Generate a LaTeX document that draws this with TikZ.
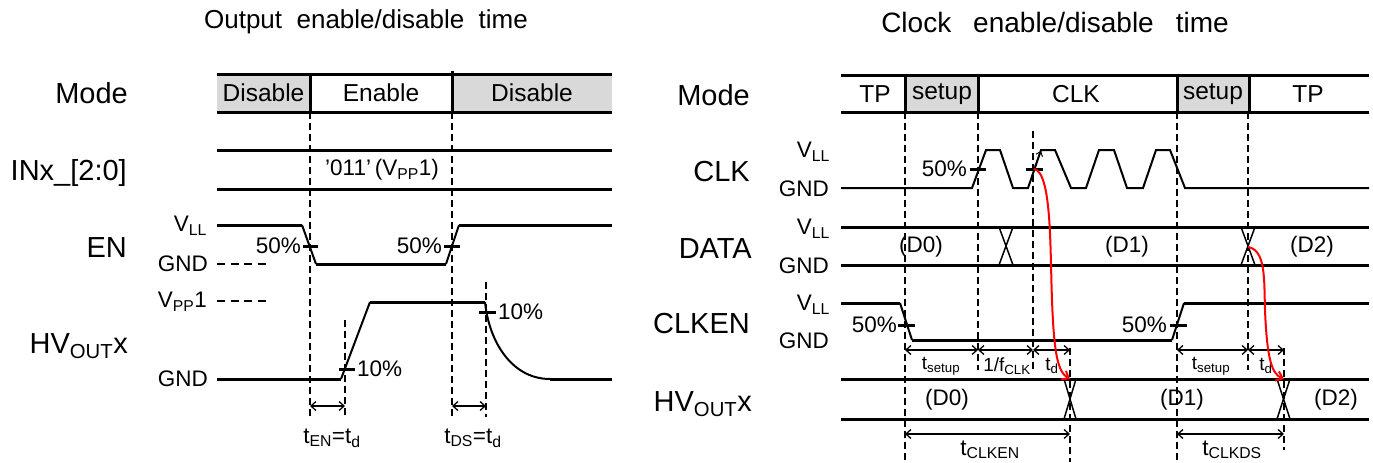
\documentclass[tikz,border=0pt]{standalone}
\usepackage{fontspec}
\setmainfont{Liberation Sans}
\usetikzlibrary{arrows.meta}
\definecolor{boxgray}{RGB}{217,217,217}
\newcommand\fbig{\fontsize{29}{31}\selectfont}
\newcommand\fmod{\fontsize{24.5}{26}\selectfont}
\newcommand\fsml{\fontsize{22.5}{24}\selectfont}
\newcommand\fdim{\fontsize{19}{21}\selectfont}
\newcommand\fttl{\fontsize{26}{28}\selectfont}
\newcommand\fttr{\fontsize{28}{30}\selectfont}
\newcommand\sbs[1]{\textsubscript{#1}}
\begin{document}
\begin{tikzpicture}[x=1pt,y=-1pt,
  sig/.style={line width=3pt},
  slope/.style={line width=2pt},
  clkw/.style={line width=2pt, line join=miter},
  tk/.style={line width=3pt},
  dsh/.style={line width=1.8pt, dash pattern=on 7pt off 4pt},
  sdsh/.style={line width=1.8pt, dash pattern=on 8pt off 5.5pt},
  dimarr/.style={line width=1.3pt, {Straight Barb[length=5pt,width=9pt]}-{Straight Barb[length=5pt,width=9pt]}},
  xln/.style={line width=1.5pt},
  redc/.style={line width=2pt, red, -{Straight Barb[length=6pt,width=10pt]}},
  lbig/.style={font=\fbig, inner sep=0pt, anchor=base east},
  lmod/.style={font=\fmod, inner sep=0pt},
  lsml/.style={font=\fsml, inner sep=0pt},
  ldim/.style={font=\fdim, inner sep=0pt},
  lttl/.style={font=\fttl, inner sep=0pt},
  lttr/.style={font=\fttr, inner sep=0pt}
]
\useasboundingbox (0,0) rectangle (1373,463);

% ================= LEFT =================
\node[lttl] (ttlL) at (366,22) {Output\ \ enable/disable\ \ time};

% Mode row
\fill[boxgray] (217,74) rectangle (310,112);
\fill[boxgray] (452,74) rectangle (612,112);
\draw[sig] (217,74) -- (612,74);
\draw[sig] (217,112) -- (612,112);
\draw[sig] (310,74) -- (310,112);
\draw[sig] (452,71) -- (452,112);
\node[lmod] (mL1) at (263.5,93) {Disable};
\node[lmod] (mL2) at (381,93) {Enable};
\node[lmod] (mL3) at (532,93) {Disable};

% big labels
\node[lbig] (LMode) at (128,103) {Mode};
\node[lbig] (LINx) at (127,180) {INx\_[2:0]};
\node[lbig] (LEN) at (127,257) {EN};
\node[lbig] (LHV) at (128,353) {HV\sbs{OUT}x};

% INx row
\draw[sig] (217,150) -- (612,150);
\draw[sig] (217,189) -- (612,189);
\node[lsml] (inxv) at (382,170) {'011'\,(V\sbs{PP}1)};

% EN row
\node[lsml, anchor=east] (enV) at (207,226) {V\sbs{LL}};
\node[lsml, anchor=east] (enG) at (208,264) {GND};
\draw[sdsh] (217,264) -- (270,264);
\draw[sig] (217,225) -- (302,225);
\draw[slope] (302,225) -- (316,264);
\draw[sig] (316,264) -- (446,264);
\draw[slope] (446,264) -- (459,225);
\draw[sig] (459,225) -- (612,225);
\draw[tk] (303,246) -- (318,246);
\draw[tk] (444,246) -- (460,246);
\node[lsml, anchor=east] (en50a) at (301,246) {50\%};
\node[lsml, anchor=east] (en50b) at (442,246) {50\%};

% HVOUT row
\node[lsml, anchor=east] (hvV) at (207,302) {V\sbs{PP}1};
\draw[sdsh] (217,301) -- (270,301);
\node[lsml, anchor=east] (hvG) at (208,379) {GND};
\draw[sig] (217,379) -- (341,379);
\draw[slope] (341,379) -- (370,302);
\draw[sig] (370,302) -- (485,302);
\draw[slope] (485,302) .. controls (489,342) and (512,379) .. (550,379);
\draw[sig] (550,379) -- (612,379);
\draw[tk] (339,369) -- (355,369);
\node[lsml, anchor=west] (hv10a) at (357,369) {10\%};
\draw[tk] (479,312) -- (496,312);
\node[lsml, anchor=west] (hv10b) at (498,312) {10\%};

% dashed verticals
\coordinate (La) at (310,406);
\coordinate (Lb) at (345,406);
\coordinate (Lc) at (452,406);
\coordinate (Ld) at (486,406);
\draw[dsh] (310,112) -- (310,417);
\draw[dsh] (452,112) -- (452,417);
\draw[dsh] (345,320) -- (345,417);
\draw[dsh] (486,282) -- (486,417);
\draw[dimarr] (La) -- (Lb);
\draw[dimarr] (Lc) -- (Ld);
\node[lsml] (tEN) at (332,438) {t\sbs{EN}=t\sbs{d}};
\node[lsml] (tDS) at (473,438) {t\sbs{DS}=t\sbs{d}};

% ================= RIGHT =================
\node[lttr] (ttlR) at (1055,22) {Clock\hspace{22pt}enable/disable\hspace{22pt}time};

% Mode row
\fill[boxgray] (905,75) rectangle (978,112);
\fill[boxgray] (1177,75) rectangle (1249,112);
\draw[sig] (841,75) -- (1369,75);
\draw[sig] (841,112) -- (1369,112);
\draw[sig] (905,75) -- (905,112);
\draw[sig] (978,75) -- (978,112);
\draw[sig] (1177,75) -- (1177,112);
\draw[sig] (1249,75) -- (1249,112);
\node[lmod] (mR1) at (875,94) {TP};
\node[lmod] (mR2) at (942,94) {setup};
\node[lmod] (mR3) at (1076,94) {CLK};
\node[lmod] (mR4) at (1213,94) {setup};
\node[lmod] (mR5) at (1308,94) {TP};

% big labels
\node[lbig] (RMode) at (750,105) {Mode};
\node[lbig] (RCLK) at (750,181) {CLK};
\node[lbig] (RDATA) at (752,258) {DATA};
\node[lbig] (RCLKEN) at (750,333) {CLKEN};
\node[lbig] (RHV) at (752,411) {HV\sbs{OUT}x};

% voltage labels
\node[lsml, anchor=east] (cV) at (830,152) {V\sbs{LL}};
\node[lsml, anchor=east] (cG) at (829,189) {GND};
\node[lsml, anchor=east] (dV) at (830,229) {V\sbs{LL}};
\node[lsml, anchor=east] (dG) at (829,266) {GND};
\node[lsml, anchor=east] (eV) at (830,305) {V\sbs{LL}};
\node[lsml, anchor=east] (eG) at (829,341) {GND};

% dashed verticals
\draw[dsh] (905,112) -- (905,462);
\draw[dsh] (978,112) -- (978,370);
\draw[dsh] (1033,131) -- (1033,370);
\draw[dsh] (1070,348) -- (1070,462);
\draw[dsh] (1177,112) -- (1177,462);
\draw[dsh] (1248,112) -- (1248,370);
\draw[dsh] (1284,348) -- (1284,450);

% CLK waveform
\draw[clkw] (841,188) -- (972,188) -- (986,150) -- (1000,150) -- (1013,188) -- (1028,188)
  -- (1041,150) -- (1055,150) -- (1071,188) -- (1086,188) -- (1099,150) -- (1114,150)
  -- (1127,188) -- (1143,188) -- (1156,150) -- (1170,150) -- (1185,188) -- (1369,188);
\draw[tk] (970,169) -- (986,169);
\draw[tk] (1026,169) -- (1043,169);
\node[lsml, anchor=east] (c50) at (967,169) {50\%};
\coordinate (ca1) at (1035,166);
\coordinate (ca2) at (1041,151);
\draw[line width=1pt, -{Straight Barb[length=4pt,width=7pt]}] (ca1) -- (ca2);

% DATA
\draw[sig] (841,227) -- (1369,227);
\draw[sig] (841,265) -- (1369,265);
\draw[xln] (999,227) -- (1013,265);
\draw[xln] (999,265) -- (1013,227);
\draw[xln] (1241,227) -- (1255,265);
\draw[xln] (1241,265) -- (1255,227);
\node[lsml] (dD0) at (921,247) {(D0)};
\node[lsml] (dD1) at (1127,247) {(D1)};
\node[lsml] (dD2) at (1312,247) {(D2)};

% CLKEN
\draw[sig] (841,303) -- (900,303);
\draw[slope] (900,303) -- (912,340);
\draw[sig] (912,340) -- (1172,340);
\draw[slope] (1172,340) -- (1184,303);
\draw[sig] (1184,303) -- (1369,303);
\draw[tk] (898,325) -- (915,325);
\draw[tk] (1170,325) -- (1187,325);
\node[lsml, anchor=east] (e50a) at (897,325) {50\%};
\node[lsml, anchor=east] (e50b) at (1167,325) {50\%};

% dims
\coordinate (d1) at (905,350);
\coordinate (d2) at (978,350);
\coordinate (d3) at (1033,350);
\coordinate (d4) at (1070,350);
\coordinate (d5) at (1177,350);
\coordinate (d6) at (1248,350);
\coordinate (d7) at (1284,350);
\draw[dimarr] (d1) -- (d2);
\draw[dimarr] (d2) -- (d3);
\draw[dimarr] (d3) -- (d4);
\draw[dimarr] (d5) -- (d6);
\draw[dimarr] (d6) -- (d7);
\node[ldim] (ts1) at (941,366) {t\sbs{setup}};
\node[ldim] (tf) at (1007,366) {1/f\sbs{CLK}};
\node[ldim] (td1) at (1052,366) {t\sbs{d}};
\node[ldim] (ts2) at (1211,366) {t\sbs{setup}};
\node[ldim] (td2) at (1266,366) {t\sbs{d}};

% HVOUT
\draw[sig] (841,379) -- (1369,379);
\draw[sig] (841,419) -- (1369,419);
\draw[xln] (1064,379) -- (1076,419);
\draw[xln] (1064,419) -- (1076,379);
\draw[xln] (1277,379) -- (1290,419);
\draw[xln] (1277,419) -- (1290,379);
\node[lsml] (hD0) at (947,400) {(D0)};
\node[lsml] (hD1) at (1182,400) {(D1)};
\node[lsml] (hD2) at (1336,400) {(D2)};

% bottom dims
\coordinate (b1) at (905,434);
\coordinate (b2) at (1070,434);
\coordinate (b3) at (1177,434);
\coordinate (b4) at (1284,434);
\draw[dimarr] (b1) -- (b2);
\draw[dimarr] (b3) -- (b4);
\node[lsml, anchor=base] (tCE) at (990,455) {t\sbs{CLKEN}};
\node[lsml, anchor=base] (tCD) at (1232,455) {t\sbs{CLKDS}};

% red curves
\coordinate (r1s) at (1034,169);
\coordinate (r1e) at (1070,379);
\coordinate (r2s) at (1248,247);
\coordinate (r2e) at (1284,379);
\draw[redc] (r1s) .. controls (1052,172) and (1050,250) .. (1052,300)
  .. controls (1054,355) and (1058,372) .. (r1e);
\draw[redc] (r2s) .. controls (1266,250) and (1264,280) .. (1265,310)
  .. controls (1267,360) and (1272,374) .. (r2e);
\end{tikzpicture}
\end{document}
